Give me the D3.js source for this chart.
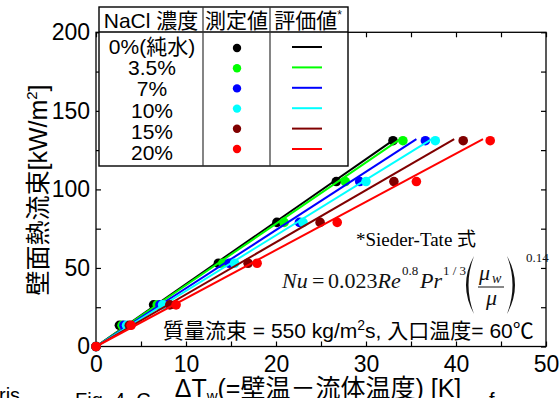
<!DOCTYPE html>
<html>
<head>
<meta charset="utf-8">
<script src="https://cdn.jsdelivr.net/npm/d3@7"></script>
<style>
  body { margin: 0; background: #fff; }
  text { font-family: 'Liberation Sans', Arial, 'Noto Sans CJK JP', sans-serif; }
  .serif { font-family: 'Liberation Serif', 'Times New Roman', 'Noto Sans CJK JP', serif; }
</style>
</head>
<body>
<script>
'use strict';

// concentration labels (legend rows)
const concLabels = ["0%(純水)", "3.5%", "7%", "10%", "15%", "20%"];
const seriesColors = ["#000000", "#00ff00", "#0000ff", "#00ffff", "#800000", "#ff0000"];

// measured wall heat flux [kW/m2] (same set for every series)
const heatFlux = [0, 13.5, 26.5, 53, 79, 105, 131];

// measured ΔTw [K] per concentration
const dT_pure = [0, 2.6, 6.4, 13.6, 20.1, 26.7, 33.0];
const dT_35   = [0, 2.9, 6.8, 14.1, 20.9, 27.7, 34.1];
const dT_7    = [0, 3.1, 7.1, 14.8, 22.6, 29.3, 36.6];
const dT_10   = [0, 3.4, 7.4, 15.4, 23.0, 30.0, 37.7];
const dT_15   = [0, 3.7, 8.2, 16.9, 24.9, 33.1, 40.8];
const dT_20   = [0, 3.9, 8.9, 17.9, 26.8, 35.6, 43.8];
const measured = [dT_pure, dT_35, dT_7, dT_10, dT_15, dT_20];

// Sieder-Tate evaluation lines: from origin to end point
const evalStart = [0, 0];
const evalEndDT = [33.2, 33.8, 35.6, 37.3, 39.8, 43.0];
const evalEndQ  = [132, 132, 132, 132, 132, 132];

// axis ticks
const xTicks = d3.range(0, 51, 5);
const yTicks = d3.range(0, 201, 25);

let svgContainer = "";

window.onload = function() {
  svgContainer = d3.select('body')
    .append('svg')
    .attr('width', 560)
    .attr('height', 398);
  makeChart();
};

function makeChart() {
  let left = 96, right = 546, top = 32.3, bottom = 346.5;

  let xScale = d3.scaleLinear().domain([0, 50]).range([left, right]);
  let yScale = d3.scaleLinear().domain([0, 200]).range([bottom, top]);

  drawCaptionBits();
  makeAxes(xScale, yScale, left, right, top, bottom);
  plotData(xScale, yScale);
  makeLegend();
  makeNotes();
  makeLabels();
}

// cut-off caption text at the very bottom
function drawCaptionBits() {
  svgContainer.append('text').attr('x', -1).attr('y', 402)
    .style('font-size', '20px').text('ris');
  svgContainer.append('text').attr('x', 75).attr('y', 407)
    .style('font-size', '20px').attr('xml:space', 'preserve').text('Fig. 4  C');
  svgContainer.append('text').attr('x', 489).attr('y', 407)
    .style('font-size', '20px').text('f');
}

function makeAxes(xScale, yScale, left, right, top, bottom) {
  let fmt10 = d => (d % 10 === 0 ? d : "");
  let fmt50 = d => (d % 50 === 0 ? d : "");

  let gx = svgContainer.append('g')
    .attr('transform', 'translate(0,' + bottom + ')')
    .call(d3.axisBottom(xScale).tickValues(xTicks).tickSize(-5).tickSizeOuter(0)
      .tickPadding(9).tickFormat(fmt10));
  gx.selectAll('text').style('font-size', '23px').attr('fill', '#000');

  svgContainer.append('g')
    .attr('transform', 'translate(0,' + top + ')')
    .call(d3.axisTop(xScale).tickValues(xTicks).tickSize(-5).tickSizeOuter(0)
      .tickFormat(""));

  let gy = svgContainer.append('g')
    .attr('transform', 'translate(' + left + ',0)')
    .call(d3.axisLeft(yScale).tickValues(yTicks).tickSize(-5).tickSizeOuter(0)
      .tickPadding(6).tickFormat(fmt50));
  gy.selectAll('text').style('font-size', '23px').attr('fill', '#000');

  svgContainer.append('g')
    .attr('transform', 'translate(' + right + ',0)')
    .call(d3.axisRight(yScale).tickValues(yTicks).tickSize(-5).tickSizeOuter(0)
      .tickFormat(""));

  svgContainer.selectAll('.domain').remove();
  svgContainer.selectAll('.tick line').attr('stroke', '#000').attr('stroke-width', 1.2);

  // frame
  svgContainer.append('rect')
    .attr('x', left).attr('y', top)
    .attr('width', right - left).attr('height', bottom - top)
    .attr('fill', 'none').attr('stroke', '#000').attr('stroke-width', 1.3);
}

function plotData(xScale, yScale) {
  for (let s = 0; s < measured.length; s++) {
    svgContainer.append('line')
      .attr('x1', xScale(evalStart[0])).attr('y1', yScale(evalStart[1]))
      .attr('x2', xScale(evalEndDT[s])).attr('y2', yScale(evalEndQ[s]))
      .attr('stroke', seriesColors[s])
      .attr('stroke-width', 2);

    svgContainer.append('g').selectAll('circle')
      .data(measured[s])
      .enter()
      .append('circle')
      .attr('cx', d => xScale(d))
      .attr('cy', (d, i) => yScale(heatFlux[i]))
      .attr('r', 4.8)
      .attr('fill', seriesColors[s]);
  }
}

function makeLegend() {
  let x0 = 99, x1 = 203, x2 = 270, x3 = 348;
  let y0 = 7, yh = 32, y1 = 166;
  let g = svgContainer.append('g');

  g.append('rect')
    .attr('x', x0).attr('y', y0).attr('width', x3 - x0).attr('height', y1 - y0)
    .attr('fill', '#fff').attr('stroke', '#000').attr('stroke-width', 1.4);
  g.append('line').attr('x1', x0).attr('x2', x3).attr('y1', yh).attr('y2', yh)
    .attr('stroke', '#000').attr('stroke-width', 1.3);
  [x1, x2].forEach(function(x) {
    g.append('line').attr('x1', x).attr('x2', x).attr('y1', y0).attr('y2', y1)
      .attr('stroke', '#333').attr('stroke-width', 1.2);
  });

  g.append('text').attr('x', (x0 + x1) / 2).attr('y', 28)
    .style('font-size', '21px').style('text-anchor', 'middle')
    .attr('xml:space', 'preserve').text('NaCl 濃度');
  g.append('text').attr('x', (x1 + x2) / 2).attr('y', 28)
    .style('font-size', '21px').style('text-anchor', 'middle').text('測定値');
  let h3 = g.append('text').attr('x', (x2 + x3) / 2 - 1).attr('y', 28)
    .style('font-size', '21px').style('text-anchor', 'middle');
  h3.append('tspan').text('評価値');
  h3.append('tspan').attr('dy', -9).style('font-size', '12px').text('*');

  let rows = g.selectAll('.row')
    .data(concLabels)
    .enter()
    .append('g');

  rows.append('text')
    .attr('x', (x0 + x1) / 2 + 1)
    .attr('y', (d, i) => 54 + i * 21.2)
    .style('font-size', '21px').style('text-anchor', 'middle')
    .text(d => d);
  rows.append('circle')
    .attr('cx', 237)
    .attr('cy', (d, i) => 48 + i * 20.2)
    .attr('r', 4.2)
    .attr('fill', (d, i) => seriesColors[i]);
  rows.append('line')
    .attr('x1', 292).attr('x2', 322)
    .attr('y1', (d, i) => 47 + i * 20.4)
    .attr('y2', (d, i) => 47 + i * 20.4)
    .attr('stroke', (d, i) => seriesColors[i])
    .attr('stroke-width', 2);
}

function makeNotes() {
  // Sieder-Tate formula
  svgContainer.append('text').attr('class', 'serif')
    .attr('x', 416).attr('y', 246)
    .style('font-size', '19px').style('text-anchor', 'middle')
    .text('*Sieder-Tate 式');

  let f = svgContainer.append('g').attr('class', 'serif').style('fill', '#111');
  let t = f.append('text').attr('class', 'serif').attr('x', 282).attr('y', 288).style('font-size', '22px');
  t.append('tspan').style('font-style', 'italic').text('Nu');
  t.append('tspan').attr('x', 312).text('=');
  t.append('tspan').attr('x', 328).text('0.023');
  t.append('tspan').style('font-style', 'italic').text('Re');
  f.append('text').attr('class', 'serif').attr('x', 402).attr('y', 275).style('font-size', '13px').text('0.8');
  f.append('text').attr('class', 'serif').attr('x', 420).attr('y', 288).style('font-size', '22px')
    .style('font-style', 'italic').text('Pr');
  f.append('text').attr('class', 'serif').attr('x', 443).attr('y', 275).style('font-size', '13px').text('1 / 3');
  f.append('path')
    .attr('d', 'M474,256 Q458,285 474,314 Q463,285 474,256 Z')
    .attr('fill', '#111');
  f.append('path')
    .attr('d', 'M507,256 Q523,285 507,314 Q518,285 507,256 Z')
    .attr('fill', '#111');
  f.append('text').attr('class', 'serif').attr('x', 479).attr('y', 280).style('font-size', '22px')
    .style('font-style', 'italic').text('μ');
  f.append('text').attr('class', 'serif').attr('x', 492).attr('y', 283).style('font-size', '14px')
    .style('font-style', 'italic').text('w');
  f.append('line').attr('x1', 478).attr('x2', 504).attr('y1', 287).attr('y2', 287)
    .attr('stroke', '#111').attr('stroke-width', 1);
  f.append('text').attr('class', 'serif').attr('x', 486).attr('y', 305).style('font-size', '22px')
    .style('font-style', 'italic').text('μ');
  f.append('text').attr('class', 'serif').attr('x', 526).attr('y', 262).style('font-size', '13px').text('0.14');

  // condition note
  let c = svgContainer.append('text').attr('x', 163).attr('y', 338)
    .style('font-size', '21px').attr('xml:space', 'preserve');
  c.append('tspan').text('質量流束 = 550 kg/m');
  c.append('tspan').attr('dy', -8).style('font-size', '14px').text('2');
  c.append('tspan').attr('dy', 8).text('s, 入口温度= 60℃');
}

function makeLabels() {
  let xl = svgContainer.append('text')
    .attr('x', 318).attr('y', 397)
    .style('font-size', '25px').style('text-anchor', 'middle');
  xl.append('tspan').text('ΔT');
  xl.append('tspan').attr('dy', 4).style('font-size', '15px').text('w');
  xl.append('tspan').attr('dy', -4).text('(=壁温－流体温度) [K]');

  let yl = svgContainer.append('text')
    .attr('transform', 'translate(47,190)rotate(-90)')
    .style('font-size', '25px').style('text-anchor', 'middle');
  yl.append('tspan').text('壁面熱流束[kW/m');
  yl.append('tspan').attr('dy', -10).style('font-size', '15px').text('2');
  yl.append('tspan').attr('dy', 10).text(']');
}
</script>
</body>
</html>
